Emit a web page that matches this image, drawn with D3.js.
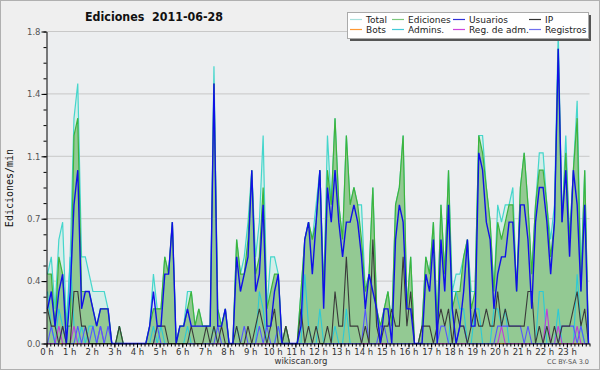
<!DOCTYPE html>
<html>
<head>
<meta charset="utf-8">
<script src="https://cdn.jsdelivr.net/npm/d3@7"></script>
<style>
  body { margin: 0; background: #efefef; }
  svg { display: block; }
</style>
</head>
<body>
<script>
// edits per minute, one value per 10-minute bin (144 bins)
const hourLabels = ["0 h","1 h","2 h","3 h","4 h","5 h","6 h","7 h","8 h","9 h","10 h","11 h",
                    "12 h","13 h","14 h","15 h","16 h","17 h","18 h","19 h","20 h","21 h","22 h","23 h"];
const yTicks = [0, 0.36, 0.72, 1.08, 1.44, 1.8];
const yTickLabels = ["0.0", "0.4", "0.7", "1.1", "1.4", "1.8"];

const total = [
  0.4,0.5,0.2,0.6,0.7,0.1,0.5,1.3,1.5,0.5,0.5,0.4,
  0.3,0.3,0.3,0.3,0.2,0,0,0.1,0,0,0,0,
  0,0,0,0.1,0.4,0.2,0.2,0.5,0.4,0.7,0,0.1,
  0.1,0.3,0.3,0.1,0.2,0.1,0.1,0.1,1.6,0.2,0.1,0.2,
  0,0,0.6,0.4,0.5,0.7,1.0,0.5,0.7,1.2,0.2,0.5,
  0.5,0.4,0,0.1,0,0,0,0.3,0.6,0.7,0.6,0.8,
  1.0,0.3,1.2,0.8,1.3,0.8,0.6,1.2,0.8,0.9,0.8,0.8,
  0.3,0.4,0.9,0.2,0.1,0.2,0.3,0.1,0.8,0.9,1.2,0.2,
  0.5,0,0,0.1,0.5,0.4,0.7,0.1,0.8,0.4,1.0,0.3,
  0.4,0.4,0.5,0.6,0.3,0.3,1.2,1.2,0.9,0.7,0.3,0.8,
  0.7,0.8,0.8,0.9,0.3,0.9,1.1,0.8,0.4,0.8,1.1,1.1,
  0.8,0.6,0.8,1.8,0.7,1.2,0.6,1.0,1.4,0.4,1.0,0
];
const ediciones = [
  0.4,0.4,0.1,0.5,0.4,0.1,0.1,1.2,1.3,0.3,0.3,0.3,
  0.2,0.1,0.2,0.2,0.2,0,0,0.1,0,0,0,0,
  0,0,0,0.1,0.2,0.2,0.2,0.5,0.4,0.7,0,0.1,
  0.1,0.2,0.3,0.1,0.2,0.1,0.1,0.1,1.5,0.2,0.1,0.2,
  0,0,0.6,0.4,0.4,0.6,1.0,0.4,0.5,0.9,0.2,0.3,
  0.4,0.4,0,0.1,0,0,0,0.3,0.6,0.7,0.6,0.7,
  1.0,0.3,1.0,0.8,1.3,0.8,0.6,1.2,0.8,0.9,0.8,0.6,
  0.3,0.4,0.9,0.2,0.1,0.2,0.3,0.1,0.8,0.9,1.2,0.2,
  0.5,0,0,0.1,0.5,0.4,0.7,0.1,0.8,0.4,1.0,0.2,
  0.3,0.3,0.5,0.6,0.2,0.3,1.2,1.1,0.9,0.7,0.3,0.7,
  0.6,0.7,0.8,0.8,0.3,0.9,1.1,0.8,0.4,0.8,1.0,1.0,
  0.8,0.5,0.7,1.7,0.7,1.1,0.6,1.0,1.3,0.3,1.0,0
];
const usuarios = [
  0.2,0.3,0.1,0.3,0.4,0,0.3,0.8,1.0,0.2,0.3,0.3,
  0.2,0.1,0.2,0.2,0.2,0,0,0,0,0,0,0,
  0,0,0,0.1,0.3,0.1,0.1,0.4,0.4,0.7,0,0.1,
  0.1,0.2,0.1,0.1,0.1,0.1,0.1,0.1,1.5,0.1,0.1,0.2,
  0,0,0.5,0.3,0.4,0.5,1.0,0.3,0.4,0.8,0.1,0.1,
  0.3,0.4,0,0,0,0,0,0.1,0.6,0.7,0.4,0.7,
  1.0,0.2,0.9,0.7,1.0,0.7,0.5,0.7,0.7,0.8,0.7,0.5,
  0.2,0.4,0.3,0.2,0,0.2,0.2,0,0.6,0.8,0.7,0.2,
  0.2,0,0,0,0.4,0.3,0.6,0,0.6,0.3,0.8,0.2,
  0,0.1,0.3,0.6,0.1,0.1,1.1,1.0,0.7,0.6,0.2,0.4,
  0.5,0.5,0.7,0.7,0.3,0.8,0.8,0.6,0.2,0.7,0.9,0.9,
  0.7,0.4,0.7,1.7,0.7,1.0,0.5,1.0,0.8,0.3,0.8,0
];
const ip = [
  0.2,0.1,0.1,0,0.1,0,0,0.3,0.3,0.1,0.1,0,
  0,0,0,0,0,0,0,0.1,0,0,0,0,
  0,0,0,0,0,0.1,0.1,0.1,0,0,0,0,
  0,0,0.1,0,0,0,0.1,0,0.1,0,0.1,0,
  0,0,0.1,0,0,0.1,0,0.1,0.2,0.1,0,0.1,
  0.2,0,0,0.1,0,0,0,0.2,0,0.1,0,0.1,
  0,0,0.1,0,0.3,0.1,0.1,0.5,0.1,0.1,0.1,0,
  0.1,0,0.6,0.1,0,0.1,0.1,0.2,0.1,0.1,0.5,0.1,
  0.3,0,0,0.1,0.1,0.1,0,0.1,0.2,0.1,0.2,0,
  0.2,0.1,0.1,0,0.1,0.2,0.1,0.1,0.2,0.1,0.1,0.3,
  0.1,0.2,0.1,0.1,0.1,0.1,0.1,0.3,0.3,0,0.1,0,
  0.1,0,0.1,0,0.1,0.1,0.1,0.2,0.3,0.1,0.2,0
];
const bots = [
  0,0,0,0,0,0,0,0,0,0,0,0, 0,0,0,0,0,0,0,0,0,0,0,0,
  0,0,0,0,0,0,0,0,0,0,0,0, 0,0,0,0,0,0,0,0,0,0,0,0,
  0,0,0,0,0,0,0,0,0,0,0,0, 0,0,0,0,0,0,0,0,0,0,0,0,
  0,0,0,0,0,0,0,0,0,0,0,0, 0,0,0,0,0,0,0,0,0,0,0,0,
  0,0,0,0,0,0,0,0,0,0,0,0, 0,0,0,0,0,0,0,0,0,0,0,0,
  0,0,0,0,0,0,0,0,0,0,0,0, 0,0,0,0,0,0,0,0,0,0,0,0
];
const admins = [
  0.3,0.1,0,0.2,0.1,0,0.5,0.1,0,0.1,0,0.1,
  0.1,0,0.1,0,0,0,0,0,0,0,0,0,
  0,0,0,0,0.1,0,0.1,0,0,0,0,0,
  0,0.1,0,0,0,0,0,0,0.1,0,0,0,
  0,0,0.1,0,0,0,0,0,0.3,0.2,0,0,
  0,0.1,0,0,0,0,0,0,0.4,0.1,0,0,
  0.2,0,0,0,0.1,0,0,0.2,0,0,0,0,
  0,0,0,0,0,0,0,0,0,0,0,0,
  0,0,0,0,0,0,0,0,0,0,0,0.3,
  0.3,0.2,0.2,0,0,0.2,0.2,0,0,0,0.2,0.2,
  0.1,0.2,0,0,0,0,0,0,0,0,0.3,0.3,
  0,0,0,0.2,0,0,0,0,0.4,0.1,0,0
];
const regAdm = [
  0,0,0,0.1,0,0,0,0.1,0,0,0,0,
  0,0,0.1,0,0,0,0,0,0,0,0,0,
  0,0,0,0,0,0,0,0,0,0,0,0,
  0,0,0,0,0,0,0,0,0,0,0,0,
  0,0,0,0,0,0,0,0,0,0,0,0,
  0,0,0,0,0,0,0,0,0,0,0,0,
  0,0,0,0,0,0,0,0,0,0,0,0,
  0,0,0,0,0,0,0,0,0,0,0,0,
  0,0,0,0,0,0,0,0,0,0,0,0,
  0,0,0,0,0,0,0,0,0,0,0,0,
  0.1,0,0,0,0,0,0,0,0,0,0,0,
  0.2,0,0,0.1,0,0,0,0,0.1,0,0,0
];
const registros = [
  0,0.1,0,0,0.1,0,0,0,0.1,0,0.1,0,
  0.1,0,0.1,0,0.1,0,0,0,0,0,0,0,
  0,0,0,0,0,0.1,0,0,0,0,0,0,
  0,0,0,0,0,0,0,0,0,0.1,0,0,
  0,0,0,0,0.1,0,0,0,0.1,0,0.1,0,
  0,0.1,0,0,0,0,0,0,0,0,0,0,
  0,0,0,0,0,0,0,0,0,0,0,0,
  0.2,0,0,0,0.1,0.1,0,0,0,0,0,0,
  0,0,0,0,0,0,0,0,0.1,0.1,0,0,
  0,0.1,0.1,0,0,0,0,0,0,0,0,0.1,
  0.1,0.1,0.1,0.1,0.1,0.1,0,0.1,0,0,0,0,
  0,0,0,0,0.1,0.1,0.1,0.1,0,0.1,0,0
];

const width = 600, height = 370;

const svg = d3.select("body").append("svg")
    .attr("width", width)
    .attr("height", height)
    .style("font-family", "'DejaVu Sans', sans-serif");

svg.append("rect")
    .attr("x", 0.5).attr("y", 0.5)
    .attr("width", width - 1).attr("height", height - 1)
    .attr("fill", "#efefef")
    .attr("stroke", "#b0b0b0");

// hour axis and bin positions
const x = d3.scaleLinear().domain([0, 24]).range([46.5, 589.5]);
const xi = d3.scaleLinear().domain([0, 143]).range([47.5, 588.5]);
const y = d3.scaleLinear().domain([0, 1.8]).range([343.5, 31.5]);

svg.append("rect")
    .attr("x", x(0)).attr("y", y(1.8))
    .attr("width", x(24) - x(0)).attr("height", y(0) - y(1.8))
    .attr("fill", "#eceef0");

svg.append("g")
    .selectAll("line")
    .data(yTicks.slice(1))
    .join("line")
    .attr("x1", x(0)).attr("x2", x(24))
    .attr("y1", d => y(d)).attr("y2", d => y(d))
    .attr("stroke", "#c8c8c8");

const area = data => d3.area()
    .x((d, i) => xi(i))
    .y0(y(0))
    .y1(d => y(d))(data);
const line = data => d3.line()
    .x((d, i) => xi(i))
    .y(d => y(d))(data);

const plot = svg.append("g");

plot.append("path").attr("d", area(total)).attr("fill", "#d4eee9");
plot.append("path").attr("d", line(total)).attr("fill", "none")
    .attr("stroke", "#45d6cc").attr("stroke-width", 1.2);
plot.append("path").attr("d", area(ediciones)).attr("fill", "#93c993");
plot.append("path").attr("d", line(ediciones)).attr("fill", "none")
    .attr("stroke", "#3db43d").attr("stroke-width", 1.2);

const lineSeries = [
    {data: bots, color: "#ff9a30", w: 1},
    {data: admins, color: "#2ccad6", w: 1.1},
    {data: regAdm, color: "#c03cd8", w: 1.1},
    {data: registros, color: "#5555ff", w: 1.1},
    {data: ip, color: "#3a3a3a", w: 1.1},
    {data: usuarios, color: "#1010e8", w: 1.4}
];
lineSeries.forEach(s => {
    plot.append("path").attr("d", line(s.data)).attr("fill", "none")
        .attr("stroke", s.color).attr("stroke-width", s.w)
        .attr("stroke-linejoin", "miter");
});

// y axis
svg.append("g")
    .attr("transform", "translate(" + x(0) + ",0)")
    .call(d3.axisLeft(y).tickValues(d3.range(0, 21).map(k => k * 0.09)).tickSize(3).tickFormat(""))
    .call(g => g.select(".domain").remove());
svg.append("g")
    .attr("transform", "translate(" + x(0) + ",0)")
    .call(d3.axisLeft(y).tickValues(yTicks).tickSize(5).tickPadding(1)
        .tickFormat((d, i) => yTickLabels[i]).tickSizeOuter(0))
    .call(g => g.selectAll("text").attr("font-size", 8.5).attr("fill", "#555")
        .attr("font-family", "'DejaVu Sans', sans-serif"));

// x axis
svg.append("g")
    .attr("transform", "translate(0," + y(0) + ")")
    .call(d3.axisBottom(x).tickValues(d3.range(0, 145).map(k => k / 6)).tickSize(3).tickFormat(""))
    .call(g => g.select(".domain").remove());
svg.append("g")
    .attr("transform", "translate(0," + y(0) + ")")
    .call(d3.axisBottom(x).tickValues(d3.range(0, 24)).tickSize(4).tickPadding(1)
        .tickFormat((d, i) => hourLabels[i]).tickSizeOuter(0))
    .call(g => g.selectAll("text").attr("font-size", 8.5).attr("fill", "#333")
        .attr("font-family", "'DejaVu Sans', sans-serif"));

// titles
svg.append("text")
    .attr("x", 85).attr("y", 21)
    .attr("font-size", 12).attr("font-weight", "bold")
    .attr("textLength", 138).attr("lengthAdjust", "spacingAndGlyphs")
    .attr("fill", "#111")
    .text("Ediciones\u00a0\u00a02011-06-28");

svg.append("text")
    .attr("transform", "translate(13,188) rotate(-90)")
    .attr("text-anchor", "middle")
    .attr("font-family", "'DejaVu Sans Mono', monospace")
    .attr("font-size", 10)
    .attr("fill", "#111")
    .text("Ediciones/min");

svg.append("text")
    .attr("x", 301).attr("y", 364)
    .attr("text-anchor", "middle")
    .attr("font-size", 8.5).attr("fill", "#333")
    .text("wikiscan.org");

svg.append("text")
    .attr("x", 589).attr("y", 364)
    .attr("text-anchor", "end")
    .attr("font-size", 6.5).attr("fill", "#555")
    .text("CC BY-SA 3.0");

// legend
const legendItems = [
    {name: "Total", color: "#a8e0dc"},
    {name: "Ediciones", color: "#7cc87c"},
    {name: "Usuarios", color: "#3030d8"},
    {name: "IP", color: "#333333"},
    {name: "Bots", color: "#ff9933"},
    {name: "Admins.", color: "#44cad8"},
    {name: "Reg. de adm.", color: "#cc44dd"},
    {name: "Registros", color: "#7070ee"}
];
const colX = [350, 392, 453, 529];
const legend = svg.append("g");
legend.append("rect")
    .attr("x", 350).attr("y", 15).attr("width", 241).attr("height", 26)
    .attr("fill", "#555");
legend.append("rect")
    .attr("x", 347.5).attr("y", 12.5).attr("width", 241).attr("height", 26)
    .attr("fill", "#fff").attr("stroke", "#aaa");
legendItems.forEach((d, k) => {
    const cx = colX[k % 4], cy = k < 4 ? 19.5 : 29.5;
    legend.append("line")
        .attr("x1", cx).attr("x2", cx + 12)
        .attr("y1", cy).attr("y2", cy)
        .attr("stroke", d.color).attr("stroke-width", 1.2);
    legend.append("text")
        .attr("x", cx + 16).attr("y", cy + 3)
        .attr("font-size", 9).attr("fill", "#222")
        .text(d.name);
});
</script>
</body>
</html>
